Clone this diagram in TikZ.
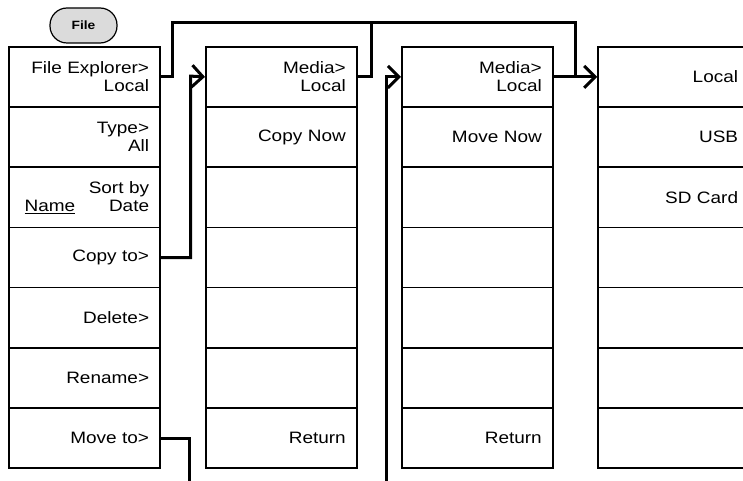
\documentclass[tikz,border=0pt]{standalone}
\usepackage{fontspec}
\setmainfont{Liberation Sans}[FakeStretch=1.15]
\usetikzlibrary{arrows.meta}
\begin{document}
\begin{tikzpicture}[x=1pt,y=-1pt,
  cell/.style={draw=black,line width=1.6pt,minimum width=151pt,minimum height=60.2pt,
    inner xsep=11pt,inner ysep=0pt,text width=129pt,align=right,anchor=north west,
    font=\fontsize{16.5}{18}\selectfont},
  conn/.style={line width=3pt},
  tip/.style={-{Straight Barb[length=11pt,width=22pt]}},
  btn/.style={draw=black,line width=1.2pt,fill=black!14,rounded corners=17pt,
    minimum width=67pt,minimum height=35pt,font=\fontsize{12}{13}\selectfont\bfseries}]
\useasboundingbox (0,0) rectangle (743,481);
\clip (0,0) rectangle (743,481);

\node[btn] (file) at (83.5,25.5) {File};

% column 1
\node[cell] (c1r1) at (8.3,46) {File Explorer>\\Local};
\node[cell] (c1r2) at (8.3,106.2) {Type>\\All};
\node[cell] (c1r3) at (8.3,166.4) {Sort by\\\hspace*{4.5pt}\underline{Name}\hfill Date};
\node[cell] (c1r4) at (8.3,226.6) {Copy to>};
\node[cell] (c1r5) at (8.3,286.8) {Delete>};
\node[cell] (c1r6) at (8.3,347) {Rename>};
\node[cell] (c1r7) at (8.3,407.2) {Move to>};

% column 2
\node[cell] (c2r1) at (205,46) {Media>\\Local};
\node[cell] (c2r2) at (205,106.2) {Copy Now};
\node[cell] (c2r3) at (205,166.4) {};
\node[cell] (c2r4) at (205,226.6) {};
\node[cell] (c2r5) at (205,286.8) {};
\node[cell] (c2r6) at (205,347) {};
\node[cell] (c2r7) at (205,407.2) {Return};

% column 3
\node[cell] (c3r1) at (401,46) {Media>\\Local};
\node[cell] (c3r2) at (401,106.2) {Move Now};
\node[cell] (c3r3) at (401,166.4) {};
\node[cell] (c3r4) at (401,226.6) {};
\node[cell] (c3r5) at (401,286.8) {};
\node[cell] (c3r6) at (401,347) {};
\node[cell] (c3r7) at (401,407.2) {Return};

% column 4
\node[cell] (c4r1) at (597.3,46) {Local};
\node[cell] (c4r2) at (597.3,106.2) {USB};
\node[cell] (c4r3) at (597.3,166.4) {SD Card};
\node[cell] (c4r4) at (597.3,226.6) {};
\node[cell] (c4r5) at (597.3,286.8) {};
\node[cell] (c4r6) at (597.3,347) {};
\node[cell] (c4r7) at (597.3,407.2) {};

% connectors
\coordinate (b1) at (172.5,23);
\coordinate (b2) at (371,23);
\coordinate (b3) at (575,23);
\coordinate (k1) at (190.5,76.1);
\coordinate (m1) at (189,490);
\coordinate (m2) at (386.5,490);

\draw[conn,tip] (c1r1.east) -| (b1) -- (b3) |- (c4r1.west);
\draw[conn,line cap=rect] (c2r1.east) -| (b2);
\draw[conn] (c3r1.east) -- (c3r1.east -| b3);
\draw[conn,tip] (c1r4.east) -| (k1) -- (c2r1.west);
\draw[conn] (c1r7.east) -| (m1);
\draw[conn,tip] (m2) |- (c3r1.west);
\end{tikzpicture}
\end{document}
